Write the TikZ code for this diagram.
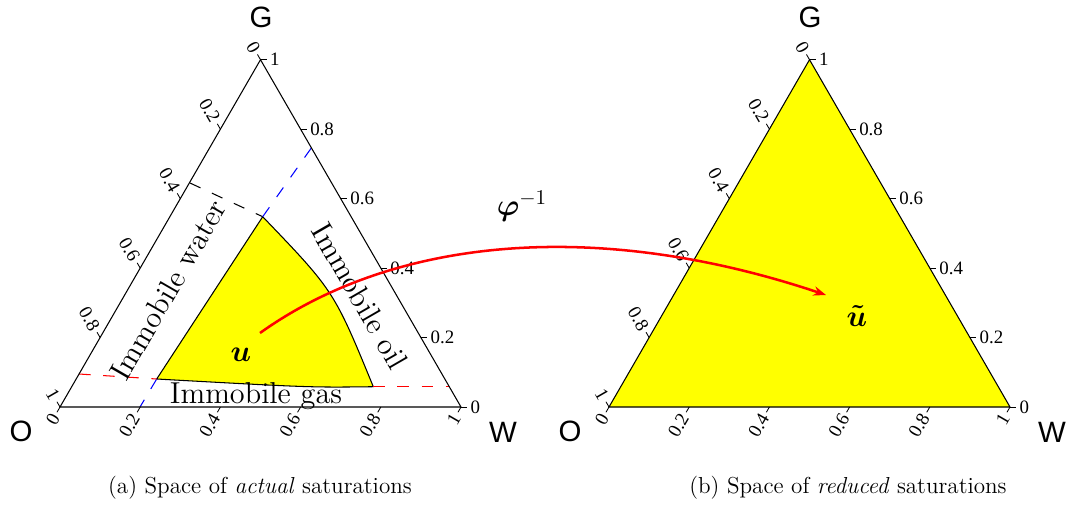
\documentclass[tikz,border=0pt]{standalone}
\usepackage{amsmath}
\usepackage{fontspec}
\newfontfamily\plotfont{Liberation Serif}
\newfontfamily\cornerfont{Liberation Sans}
\usetikzlibrary{arrows.meta}
\definecolor{feasible}{RGB}{255,255,0}

\tikzset{
  simplex/.style={line width=0.5pt},
  tickmark/.style={line width=0.4pt},
  ticklabel/.style={font=\plotfont\fontsize{9}{9}\selectfont, inner sep=1.5pt},
  cornerlabel/.style={font=\cornerfont\fontsize{14}{14}\selectfont},
  zonelabel/.style={font=\Large, inner sep=0pt},
  limitline/.style={dash pattern=on 5.5pt off 6pt, line width=0.5pt},
  caption/.style={font=\fontsize{11}{13}\selectfont},
}

% ticks and labels of a ternary frame (side 401, origin at O)
\newcommand{\ternaryframe}[1]{%
  \coordinate (#1O) at (0,0);
  \coordinate (#1W) at (401,0);
  \coordinate (#1G) at (200.5,347.3);
  \draw[simplex] (#1O) -- (#1W) -- (#1G) -- cycle;
  \foreach \v [count=\k] in {0,0.2,0.4,0.6,0.8,1}{
    % bottom axis
    \draw[tickmark] ({401*\v},0) -- ++(240:2.9pt)
      node[ticklabel,rotate=60,anchor=east] (#1bot\k) {\v};
    % left axis
    \draw[tickmark] ({200.5*(1-\v)},{347.3*(1-\v)}) -- ++(120:2.9pt)
      node[ticklabel,rotate=-60,anchor=east] (#1lft\k) {\v};
    % right axis
    \draw[tickmark] ({401-200.5*\v},{347.3*\v}) -- ++(0:2.9pt)
      node[ticklabel,anchor=west] (#1rgt\k) {\v};
  }
  \node[cornerlabel] (#1Glab) at (201,390) {G};
  \node[cornerlabel] (#1Olab) at (-39,-24) {O};
  \node[cornerlabel] (#1Wlab) at (443,-25) {W};
}

\begin{document}
\begin{tikzpicture}[x=0.476pt, y=0.476pt]
  \useasboundingbox (0,0) rectangle (1069,506);

  % actual saturations
  \begin{scope}[shift={(60,99)}]
    \coordinate (top) at (202.7,190.3);
    \coordinate (bl) at (96.7,28);
    \coordinate (br) at (313.3,20.3);
    \fill[feasible] (bl) -- (top) .. controls (274,116) .. (br)
      .. controls (250,19.5) .. (bl) -- cycle;
    \draw[simplex] (bl) -- (top) .. controls (274,116) .. (br)
      .. controls (250,19.5) .. (bl) -- cycle;
    % residual limits
    \draw[limitline] (130,224) -- (top);
    \draw[limitline,blue] (top) -- (251.3,259);
    \draw[limitline,blue] (bl) -- (80,0);
    \draw[limitline,red] (19,33) -- (bl);
    \draw[limitline,red] (br) -- (389.3,20.3);
    \ternaryframe{a}
    \node[zonelabel,rotate=60] (water) at (108,117) {Immobile water};
    \node[zonelabel,rotate=-60] (oil) at (300,111) {Immobile oil};
    \node[zonelabel] (gas) at (196,11) {Immobile gas};
    \node[font=\Large] (u) at (181,52) {$\boldsymbol{u}$};
  \end{scope}

  % reduced saturations
  \begin{scope}[shift={(609,99)}]
    \fill[feasible] (0,0) -- (401,0) -- (200.5,347.3) -- cycle;
    \ternaryframe{b}
    \node[font=\Large] (ut) at (248,91) {$\boldsymbol{\tilde u}$};
  \end{scope}

  % map
  \coordinate (ustart) at (260,173);
  \coordinate (uend) at (826,211);
  \draw[red, line width=1.2pt, -{Stealth[length=6pt,width=4.5pt]}]
    (ustart) .. controls (390,266) and (590,290) .. (uend);
  \node[font=\Large] (phi) at (522,300) {$\boldsymbol{\varphi}^{-1}$};

  % captions
  \node[caption] (capa) at (260,18) {(a) Space of \emph{actual} saturations};
  \node[caption] (capb) at (848,18) {(b) Space of \emph{reduced} saturations};
\end{tikzpicture}
\end{document}
